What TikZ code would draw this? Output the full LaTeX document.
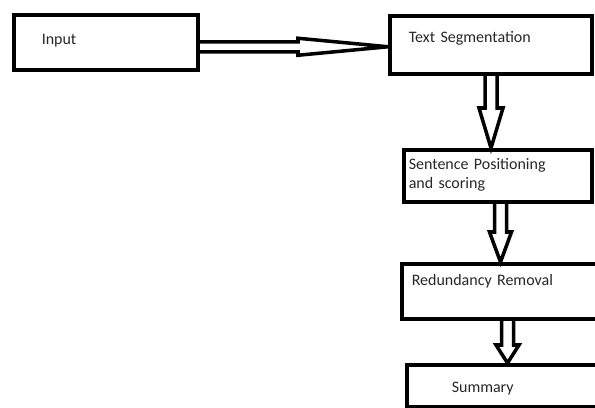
\documentclass[tikz,border=0pt]{standalone}
\usepackage{fontspec}
\setmainfont{Carlito}
\usepackage{tikz}
\usetikzlibrary{calc, positioning}

\begin{document}
\begin{tikzpicture}[
    box/.style={draw, line width=2pt, anchor=north west, align=left, inner ysep=0pt, text=black!85, font=\fontsize{9.1pt}{10.8pt}\selectfont},
    rarrow/.style args={#1/#2/#3}{draw, line width=2pt, to path={let \p1=(\tikztostart), \p2=(\tikztotarget) in
        (\x1,\y1+#1) -- (\x2-#3,\y1+#1) -- (\x2-#3,\y1+#2) -- (\x2,\y1) -- (\x2-#3,\y1-#2) -- (\x2-#3,\y1-#1) -- (\x1,\y1-#1)}},
    dnarrow/.style args={#1/#2/#3}{draw, line width=2pt, to path={let \p1=(\tikztostart), \p2=(\tikztotarget) in
        (\x1-#1,\y1) -- (\x1-#1,\y2+#3) -- (\x1-#2,\y2+#3) -- (\x1,\y2) -- (\x1+#2,\y2+#3) -- (\x1+#1,\y2+#3) -- (\x1+#1,\y1)}}
]
    \useasboundingbox (0,0) rectangle (11.9,-8.14);

    % Boxes
    \node[box, inner xsep=0.56cm, text width=2.56cm, text height=0.6cm, text depth=0.5cm] (input) at (0.24,-0.26) {Input};
    \node[box, inner xsep=0.38cm, text width=3.28cm, text height=0.54cm, text depth=0.62cm] (seg) at (7.76,-0.28) {Text Segmentation};
    \node[box, inner xsep=0.1cm, text width=3.56cm, text height=0.4cm, text depth=0.64cm] (sent) at (8.04,-2.96) {Sentence Positioning\\and scoring};
    \node[box, inner xsep=0.2cm, text width=4.0cm, text height=0.44cm, text depth=0.66cm] (red) at (8.0,-5.24) {Redundancy Removal};
    \node[box, inner xsep=0.9cm, text width=2.6cm, text height=0.56cm, text depth=0.28cm] (sum) at (8.1,-7.26) {Summary};

    % Block arrows
    \draw[rarrow={0.1cm/0.17cm/1.8cm}] ([yshift=-0.09cm]input.east) to (seg.west);
    \draw[dnarrow={0.12cm/0.24cm/0.8cm}] ([xshift=2.06cm]seg.south west) to (sent.north);
    \draw[dnarrow={0.12cm/0.22cm/0.6cm}] ([xshift=1.97cm]sent.south west) to (red.north);
    \draw[dnarrow={0.12cm/0.23cm/0.36cm}] ([xshift=2.15cm]red.south west) to (sum.north);
\end{tikzpicture}
\end{document}
